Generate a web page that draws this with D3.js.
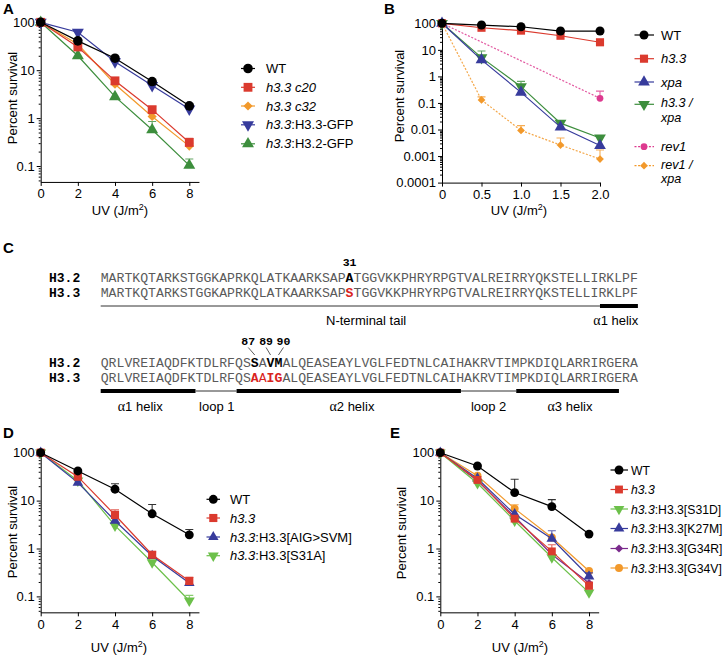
<!DOCTYPE html>
<html><head><meta charset="utf-8">
<script src="https://cdn.jsdelivr.net/npm/d3@7"></script>
<style>
body{margin:0;background:#fff;}
svg{display:block;}
</style></head><body>
<svg id="c" width="726" height="657"></svg>
<script>
// ---------------- DATA ----------------
const doseAD = [0, 2, 4, 6, 8];
const doseB = [0, 0.5, 1.0, 1.5, 2.0];
const doseBrev1 = [0, 2.0];
const xTicksAD = [0, 2, 4, 6, 8];
const xLabelsAD = ["0", "2", "4", "6", "8"];
const xTicksB = [0, 0.5, 1.0, 1.5, 2.0];
const xLabelsB = ["0", "0.5", "1.0", "1.5", "2.0"];
const yTicksADE = [0.1, 1, 10, 100];
const yLabelsADE = ["0.1", "1", "10", "100"];
const yTicksB = [0.0001, 0.001, 0.01, 0.1, 1, 10, 100];
const yLabelsB = ["0.0001", "0.001", "0.01", "0.1", "1", "10", "100"];

// Panel A
const aWT      = [100, 41, 17.8, 5.8, 1.8];
const aC20     = [100, 30.5, 6.0, 1.5, 0.31];
const aC32     = [100, 35, 5.1, 1.08, 0.26];
const aH33GFP  = [100, 62, 15, 4.8, 1.55];
const aH32GFP  = [100, 20, 2.8, 0.57, 0.103];
const aWTerr     = [null, null, null, null, 2.0];
const aC20err    = [null, null, 6.8, 1.75, 0.38];
const aC32err    = [null, null, null, 1.3, 0.3];
const aH33GFPerr = [null, null, null, null, null];
const aH32GFPerr = [null, null, null, 0.85, 0.14];

// Panel B
const bWT      = [100, 86, 74, 51, 51];
const bH33     = [100, 68, 53, 34, 19.3];
const bXpa     = [100, 4.2, 0.25, 0.0123, 0.0025];
const bH33Xpa  = [100, 5.1, 0.41, 0.0174, 0.0048];
const bRev1    = [100, 0.15];
const bRev1Xpa = [100, 0.13, 0.0092, 0.0026, 0.00077];
const bWTerr      = [null, null, null, null, null];
const bH33err     = [null, null, null, null, null];
const bXpaerr     = [null, null, null, null, null];
const bH33Xpaerr  = [null, 9.1, 0.65, null, null];
const bRev1err    = [null, 0.28];
const bRev1Xpaerr = [null, 0.17, 0.014, 0.0048, 0.0017];

// Panel C
const seqH32a = "MARTKQTARKSTGGKAPRKQLATKAARKSAPATGGVKKPHRYRPGTVALREIRRYQKSTELLIRKLPF";
const seqH33a = "MARTKQTARKSTGGKAPRKQLATKAARKSAPSTGGVKKPHRYRPGTVALREIRRYQKSTELLIRKLPF";
const seqH32b = "QRLVREIAQDFKTDLRFQSSAVMALQEASEAYLVGLFEDTNLCAIHAKRVTIMPKDIQLARRIRGERA";
const seqH33b = "QRLVREIAQDFKTDLRFQSAAIGALQEASEAYLVGLFEDTNLCAIHAKRVTIMPKDIQLARRIRGERA";
const block2FirstResidue = 68;
const markedResiduesA = [31];
const markedResiduesB = [87, 89, 90];
const redPlainResiduesB = [88];
const segmentsA = [[0, 63.2, "thin"], [63.2, 68, "thick"]];
const segmentsB = [[0, 12, "thick"], [12, 17.2, "thin"], [17.2, 45.6, "thick"], [45.6, 52.6, "thin"], [52.6, 65.6, "thick"]];
const segLabelsA = [["N-terminal tail", 33.6, false], ["1 helix", 65.2, true]];
const segLabelsB = [["1 helix", 5, true], ["loop 1", 14.7, false], ["2 helix", 31.8, true], ["loop 2", 49.1, false], ["3 helix", 59.4, true]];

// Panel D
const dWT   = [100, 41.6, 17.3, 5.3, 1.93];
const dH33  = [100, 31.6, 5.0, 0.74, 0.21];
const dAIG  = [100, 23.7, 3.8, 0.7, 0.19];
const dS31A = [100, 26, 3.0, 0.51, 0.081];
const dWTerr   = [null, null, 22.5, 8.3, 2.5];
const dH33err  = [null, null, 6.4, 0.85, 0.25];
const dAIGerr  = [null, null, null, null, null];
const dS31Aerr = [null, null, null, null, 0.105];

// Panel E
const eWT   = [100, 52.8, 14.7, 7.5, 2.0];
const eH33  = [100, 27, 4.2, 0.87, 0.166];
const eS31D = [100, 23, 3.8, 0.65, 0.12];
const eK27M = [100, 29, 5.2, 1.6, 0.26];
const eG34R = [100, 26, 4.6, 0.75, 0.19];
const eG34V = [100, 33, 6.8, 1.7, 0.34];
const eWTerr   = [null, null, 28, 10.5, null];
const eH33err  = [null, null, null, 1.2, 0.2];
const eS31Derr = [null, null, null, null, null];
const eK27Merr = [null, null, null, 2.35, 0.31];
const eG34Rerr = [null, null, null, null, null];
const eG34Verr = [null, null, 8.2, null, null];

// ---------------- STYLE ----------------
const SANS = "'Liberation Sans', Arial, Helvetica, sans-serif";
const MONO = "'Liberation Mono', 'Courier New', monospace";
const COL = {
  black: "#000000", red: "#db3a2e", orange: "#f2992b", blue: "#373b9c",
  green: "#3d8e3d", lgreen: "#6cc04a", pink: "#dd3a8f", purple: "#7a2a8c"
};
const svg = d3.select("#c");

function symbolPath(type, size) {
  if (type === "circle") return d3.symbol(d3.symbolCircle, size)();
  if (type === "square" || type === "diamond") return d3.symbol(d3.symbolSquare, size)();
  return d3.symbol(d3.symbolTriangle, size)();
}
function symbolRot(type) {
  if (type === "diamond") return 45;
  if (type === "triDown") return 180;
  return 0;
}

function addLabel(g, x, y, parts, size) {
  const t = g.append("text").attr("x", x).attr("y", y)
    .attr("font-family", SANS).attr("font-size", size).attr("fill", "#000");
  parts.forEach(p => {
    const s = t.append("tspan").text(p[0]);
    if (p[1]) s.attr("font-style", "italic");
  });
  return t;
}

function drawPanel(cfg) {
  const g = svg.append("g");
  const x = d3.scaleLinear().domain([0, cfg.xMax])
    .range([cfg.xPx0, cfg.xPx0 + cfg.xPxPerUnit * cfg.xMax]);
  const yBottom = cfg.yTop + cfg.perDec * Math.log10(100 / cfg.yMin);
  const y = d3.scaleLog().domain([cfg.yMin, 100]).range([yBottom, cfg.yTop]);

  // y axis
  const gy = g.append("g").attr("transform", `translate(${cfg.xPx0},0)`)
    .call(d3.axisLeft(y).tickValues(cfg.yTicks).tickFormat((d, i) => cfg.yLabels[i])
      .tickSize(4).tickSizeOuter(0).tickPadding(2));
  const minor = [];
  for (let e = Math.floor(Math.log10(cfg.yMin)); e < 2; e++)
    for (let k = 2; k < 10; k++) { const v = k * Math.pow(10, e); if (v > cfg.yMin && v < 100) minor.push(v); }
  const gm = g.append("g").attr("transform", `translate(${cfg.xPx0},0)`)
    .call(d3.axisLeft(y).tickValues(minor).tickFormat("").tickSize(2).tickSizeOuter(0));
  gm.select(".domain").remove();
  // x axis
  const gx = g.append("g").attr("transform", `translate(0,${yBottom})`)
    .call(d3.axisBottom(x).tickValues(cfg.xTicks).tickFormat((d, i) => cfg.xLabels[i])
      .tickSize(4).tickSizeOuter(0).tickPadding(3));
  [gy, gx, gm].forEach(a => {
    a.attr("font-family", SANS).attr("font-size", 13);
    a.selectAll("path,line").attr("stroke", "#000").attr("stroke-width", 1);
    a.selectAll("text").attr("fill", "#000");
  });

  // axis titles
  g.append("text").attr("transform", `translate(${cfg.yTitle[0]},${cfg.yTitle[1]}) rotate(-90)`)
    .attr("text-anchor", "middle").attr("font-family", SANS).attr("font-size", 13)
    .text("Percent survival");
  const xt = g.append("text").attr("x", cfg.xTitle[0]).attr("y", cfg.xTitle[1])
    .attr("text-anchor", "middle").attr("font-family", SANS).attr("font-size", 13);
  xt.append("tspan").text("UV (J/m");
  xt.append("tspan").text("2").attr("font-size", 9).attr("dy", -5);
  xt.append("tspan").text(")").attr("dy", 5);

  // panel letter
  g.append("text").attr("x", cfg.letter[1]).attr("y", cfg.letter[2])
    .attr("font-family", SANS).attr("font-size", 15).attr("font-weight", "bold").text(cfg.letter[0]);

  // series (draw last first so first legend entry ends on top)
  const series = cfg.series.slice().reverse();
  series.forEach(s => {
    const pts = s.values.map((v, i) => ({ x: s.dose[i], v, e: s.err[i] }));
    const line = d3.line().x(d => x(d.x)).y(d => y(d.v));
    g.append("path").datum(pts).attr("d", line).attr("fill", "none")
      .attr("stroke", s.color).attr("stroke-width", 1.2)
      .attr("stroke-dasharray", s.dash ? "2,1.6" : null)
      .attr("opacity", s.dash ? 0.85 : 1);
    const eb = pts.filter(d => d.e != null);
    g.selectAll(null).data(eb).join("path")
      .attr("d", d => `M${x(d.x)},${y(d.v)}V${y(d.e)}M${x(d.x) - 4},${y(d.e)}H${x(d.x) + 4}`)
      .attr("stroke", s.color).attr("stroke-width", 1.1).attr("fill", "none").attr("opacity", 0.8);
    g.selectAll(null).data(pts).join("path")
      .attr("d", symbolPath(s.sym, s.size))
      .attr("transform", d => `translate(${x(d.x)},${y(d.v)}) rotate(${symbolRot(s.sym)})`)
      .attr("fill", s.color);
  });

  // legend
  const L = cfg.legend;
  const size = L.size || 13;
  cfg.series.forEach((s, i) => {
    const yy = L.rows[i];
    g.append("line").attr("x1", L.l0).attr("x2", L.l1).attr("y1", yy).attr("y2", yy)
      .attr("stroke", s.color).attr("stroke-width", 1.2)
      .attr("stroke-dasharray", s.dash ? "2,1.6" : null);
    g.append("path").attr("d", symbolPath(s.sym, s.size))
      .attr("transform", `translate(${L.mx},${yy}) rotate(${symbolRot(s.sym)})`)
      .attr("fill", s.color);
    const multi = s.label.length > 1;
    const gap = L.lineGap || 12;
    const start = yy + 4.6 - (multi ? 1.5 : 0);
    s.label.forEach((ln, j) => addLabel(g, L.tx, start + j * gap, ln, multi ? (L.multiSize || size) : size));
  });
}

// ---------------- PANEL A ----------------
drawPanel({
  xMax: 8.52, xPx0: 40.7, xPxPerUnit: 18.575,
  yTop: 22.3, perDec: 47.9, yMin: 0.0465,
  yTicks: yTicksADE, yLabels: yLabelsADE, xTicks: xTicksAD, xLabels: xLabelsAD,
  yTitle: [16.5, 98], xTitle: [120, 215], letter: ["A", 3, 14],
  legend: { mx: 248, l0: 241, l1: 255, tx: 266, rows: [68.5, 87.3, 106, 124.8, 143.8] },
  series: [
    { label: [[["WT", false]]], color: COL.black, sym: "circle", size: 72, dose: doseAD, values: aWT, err: aWTerr },
    { label: [[["h3.3 c20", true]]], color: COL.red, sym: "square", size: 78, dose: doseAD, values: aC20, err: aC20err },
    { label: [[["h3.3 c32", true]]], color: COL.orange, sym: "diamond", size: 42, dose: doseAD, values: aC32, err: aC32err },
    { label: [[["h3.3", true], [":H3.3-GFP", false]]], color: COL.blue, sym: "triDown", size: 62, dose: doseAD, values: aH33GFP, err: aH33GFPerr },
    { label: [[["h3.3", true], [":H3.2-GFP", false]]], color: COL.green, sym: "triUp", size: 62, dose: doseAD, values: aH32GFP, err: aH32GFPerr }
  ]
});

// ---------------- PANEL B ----------------
drawPanel({
  xMax: 2.0, xPx0: 442, xPxPerUnit: 79,
  yTop: 23.3, perDec: 26.55, yMin: 0.0001,
  yTicks: yTicksB, yLabels: yLabelsB, xTicks: xTicksB, xLabels: xLabelsB,
  yTitle: [404, 96], xTitle: [519, 215], letter: ["B", 384, 14],
  legend: { mx: 644, l0: 634.5, l1: 654, tx: 661, lineGap: 14.6, multiSize: 12.6, rows: [35, 58.7, 82, 104.3, 146.7, 165.7] },
  series: [
    { label: [[["WT", false]]], color: COL.black, sym: "circle", size: 64, dose: doseB, values: bWT, err: bWTerr },
    { label: [[["h3.3", true]]], color: COL.red, sym: "square", size: 66, dose: doseB, values: bH33, err: bH33err },
    { label: [[["xpa", true]]], color: COL.blue, sym: "triUp", size: 60, dose: doseB, values: bXpa, err: bXpaerr },
    { label: [[["h3.3 /", true]], [["xpa", true]]], color: COL.green, sym: "triDown", size: 60, dose: doseB, values: bH33Xpa, err: bH33Xpaerr },
    { label: [[["rev1", true]]], color: COL.pink, sym: "circle", size: 36, dose: doseBrev1, values: bRev1, err: bRev1err, dash: true },
    { label: [[["rev1 /", true]], [["xpa", true]]], color: COL.orange, sym: "diamond", size: 30, dose: doseB, values: bRev1Xpa, err: bRev1Xpaerr, dash: true }
  ]
});

// ---------------- PANEL D ----------------
drawPanel({
  xMax: 8.52, xPx0: 40.7, xPxPerUnit: 18.575,
  yTop: 452.7, perDec: 47.9, yMin: 0.0465,
  yTicks: yTicksADE, yLabels: yLabelsADE, xTicks: xTicksAD, xLabels: xLabelsAD,
  yTitle: [16.5, 532], xTitle: [119, 652], letter: ["D", 3, 438],
  legend: { mx: 213.3, l0: 206.5, l1: 220, tx: 230, rows: [499.3, 518, 537, 555.7] },
  series: [
    { label: [[["WT", false]]], color: COL.black, sym: "circle", size: 62, dose: doseAD, values: dWT, err: dWTerr },
    { label: [[["h3.3", true]]], color: COL.red, sym: "square", size: 66, dose: doseAD, values: dH33, err: dH33err },
    { label: [[["h3.3", true], [":H3.3[AIG>SVM]", false]]], color: COL.blue, sym: "triUp", size: 48, dose: doseAD, values: dAIG, err: dAIGerr },
    { label: [[["h3.3", true], [":H3.3[S31A]", false]]], color: COL.lgreen, sym: "triDown", size: 52, dose: doseAD, values: dS31A, err: dS31Aerr }
  ]
});

// ---------------- PANEL E ----------------
drawPanel({
  xMax: 8.52, xPx0: 440.3, xPxPerUnit: 18.59,
  yTop: 452.7, perDec: 47.9, yMin: 0.0465,
  yTicks: yTicksADE, yLabels: yLabelsADE, xTicks: xTicksAD, xLabels: xLabelsAD,
  yTitle: [406, 533], xTitle: [520, 652], letter: ["E", 390, 438],
  legend: { mx: 619, l0: 610.5, l1: 628, tx: 631, size: 12.2, rows: [470, 489.5, 509, 528.5, 548.5, 568] },
  series: [
    { label: [[["WT", false]]], color: COL.black, sym: "circle", size: 62, dose: doseAD, values: eWT, err: eWTerr },
    { label: [[["h3.3", true]]], color: COL.red, sym: "square", size: 62, dose: doseAD, values: eH33, err: eH33err },
    { label: [[["h3.3", true], [":H3.3[S31D]", false]]], color: COL.lgreen, sym: "triDown", size: 50, dose: doseAD, values: eS31D, err: eS31Derr },
    { label: [[["h3.3", true], [":H3.3[K27M]", false]]], color: COL.blue, sym: "triUp", size: 50, dose: doseAD, values: eK27M, err: eK27Merr },
    { label: [[["h3.3", true], [":H3.3[G34R]", false]]], color: COL.purple, sym: "diamond", size: 34, dose: doseAD, values: eG34R, err: eG34Rerr },
    { label: [[["h3.3", true], [":H3.3[G34V]", false]]], color: COL.orange, sym: "circle", size: 50, dose: doseAD, values: eG34V, err: eG34Verr }
  ]
});

// ---------------- PANEL C ----------------
(function () {
  const g = svg.append("g");
  const cx = d3.scaleLinear().domain([0, 68]).range([100.7, 637.9]);
  const cw = cx(1) - cx(0);
  const fs = cw / 0.6;
  g.append("text").attr("x", 3).attr("y", 253).attr("font-family", SANS)
    .attr("font-size", 15).attr("font-weight", "bold").text("C");

  function seqRow(seq, yb, offset, boldSet, redSet, redPlain) {
    g.selectAll(null).data(seq.split("").map((c, i) => ({ c, i, r: i + offset })))
      .join("text")
      .attr("x", d => cx(d.i + 0.5)).attr("y", yb).attr("text-anchor", "middle")
      .attr("font-family", MONO).attr("font-size", fs)
      .attr("font-weight", d => (boldSet.includes(d.r) || redSet.includes(d.r)) ? "bold" : null)
      .attr("fill", d => redSet.includes(d.r) || redPlain.includes(d.r) ? "#d9231d" : (boldSet.includes(d.r) ? "#000" : "#5a5a5a"))
      .text(d => d.c);
  }
  function rowLabel(t, yb) {
    g.append("text").attr("x", 49).attr("y", yb).attr("font-family", MONO)
      .attr("font-size", 13).attr("font-weight", "bold").text(t);
  }
  function segs(list, yy) {
    list.forEach(s => {
      g.append("line").attr("x1", cx(s[0])).attr("x2", cx(s[1])).attr("y1", yy).attr("y2", yy)
        .attr("stroke", s[2] === "thick" ? "#000" : "#333")
        .attr("stroke-width", s[2] === "thick" ? 4 : 1);
    });
  }
  function segLabels(list, yb) {
    list.forEach(s => {
      const t = g.append("text").attr("x", cx(s[1])).attr("y", yb).attr("text-anchor", "middle")
        .attr("font-family", SANS).attr("font-size", 13).attr("fill", "#000");
      if (s[2]) {
        t.append("tspan").text("\u03b1").attr("font-family", "'Liberation Serif', 'DejaVu Serif', serif").attr("font-size", 14);
      }
      t.append("tspan").text(s[0]);
    });
  }

  // block 1
  markedResiduesA.forEach(r => {
    g.append("text").attr("x", cx(r + 0.5)).attr("y", 266).attr("text-anchor", "middle")
      .attr("font-family", MONO).attr("font-size", 11.5).attr("font-weight", "bold").text(String(r));
  });
  rowLabel("H3.2", 282); rowLabel("H3.3", 297);
  seqRow(seqH32a, 282, 0, markedResiduesA, [], []);
  seqRow(seqH33a, 297, 0, [], markedResiduesA, []);
  segs(segmentsA, 306);
  segLabels(segLabelsA, 325);

  // block 2
  const lblOffsets = [-6.5, -4.5, 5];
  markedResiduesB.forEach((r, k) => {
    const ci = r - block2FirstResidue;
    const lx = cx(ci + 0.5) + lblOffsets[k];
    g.append("text").attr("x", lx).attr("y", 345).attr("text-anchor", "middle")
      .attr("font-family", MONO).attr("font-size", 11.5).attr("font-weight", "bold").text(String(r));
    g.append("line").attr("x1", lx).attr("y1", 347.5).attr("x2", cx(ci + 0.5)).attr("y2", 355)
      .attr("stroke", "#333").attr("stroke-width", 0.8);
  });
  rowLabel("H3.2", 367); rowLabel("H3.3", 382);
  seqRow(seqH32b, 367, block2FirstResidue, markedResiduesB, [], []);
  seqRow(seqH33b, 382, block2FirstResidue, [], markedResiduesB, redPlainResiduesB);
  segs(segmentsB, 391);
  segLabels(segLabelsB, 411);
})();
</script></body></html>
